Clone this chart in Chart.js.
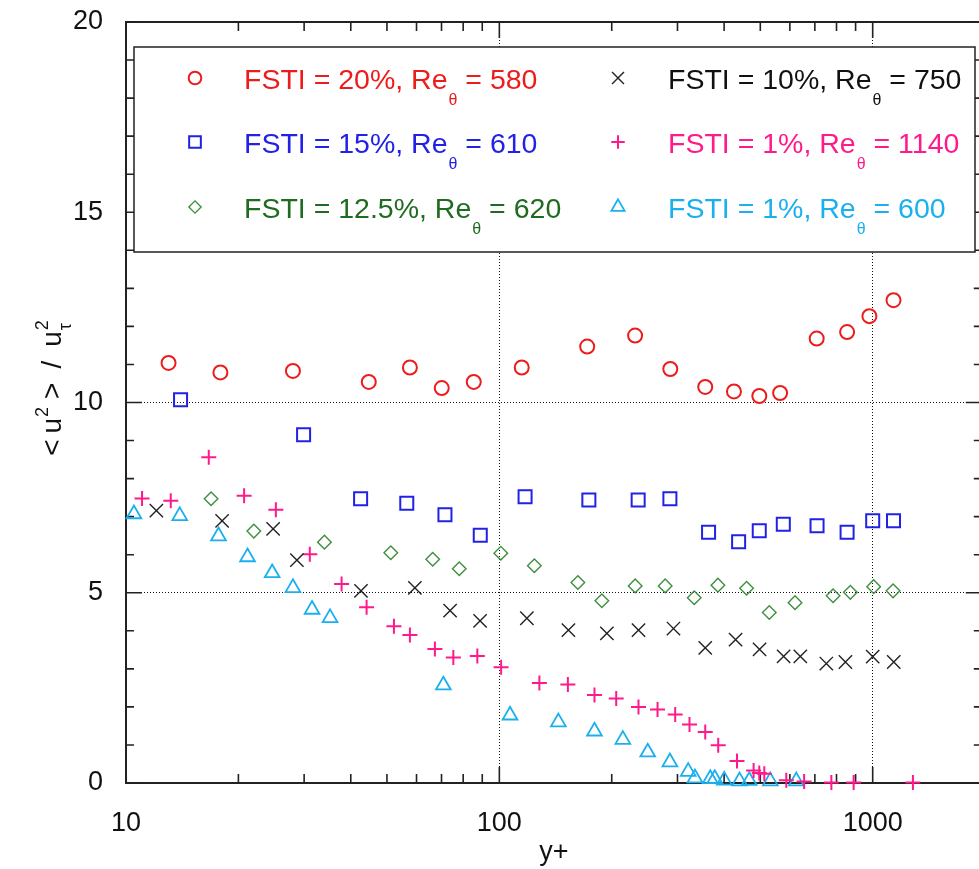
<!DOCTYPE html>
<html>
<head>
<meta charset="utf-8">
<script src="https://cdn.jsdelivr.net/npm/chart.js@4.4.1/dist/chart.umd.min.js"></script>
<style>
  html, body { margin: 0; padding: 0; background: #fff; overflow: hidden; }
  #wrap { width: 993px; height: 869px; }
</style>
</head>
<body>
<div id="wrap"><canvas id="chart" width="993" height="869"></canvas></div>
<script>
// Données (y+ , <u'^2>/u_tau^2)
const fsti20X = [13.0, 17.9, 28.0, 44.7, 57.6, 70.1, 85.4, 114.8, 171.9, 231, 287, 356, 425, 497, 565, 708, 854, 980, 1137];
const fsti20Y = [11.04, 10.79, 10.83, 10.54, 10.92, 10.38, 10.54, 10.92, 11.47, 11.76, 10.88, 10.41, 10.29, 10.17, 10.25, 11.68, 11.85, 12.27, 12.69];

const fsti15X = [14.0, 29.9, 42.5, 56.5, 71.5, 88.9, 117.2, 173.7, 235.4, 286.3, 363.4, 437.4, 496.8, 576.2, 709.5, 854, 1000, 1137];
const fsti15Y = [10.07, 9.15, 7.47, 7.35, 7.05, 6.51, 7.52, 7.44, 7.44, 7.47, 6.59, 6.34, 6.63, 6.80, 6.76, 6.59, 6.89, 6.89];

const fsti125X = [16.9, 22.0, 34.0, 51.2, 66.3, 78.1, 100.9, 124.1, 162.3, 188.2, 231.1, 278.1, 332.7, 385.0, 459.4, 528.5, 619.4, 783.2, 871.4, 1006, 1134];
const fsti125Y = [7.47, 6.62, 6.33, 6.05, 5.88, 5.63, 6.04, 5.71, 5.27, 4.79, 5.18, 5.18, 4.87, 5.20, 5.12, 4.48, 4.74, 4.92, 5.01, 5.16, 5.05];

const fsti10X = [12.06, 18.09, 24.78, 28.69, 42.6, 59.4, 73.8, 88.8, 118.5, 153.1, 194.1, 235.9, 292.7, 356, 429.3, 497.7, 577.3, 640, 751.3, 845.2, 1000, 1138.7];
const fsti10Y = [7.16, 6.89, 6.68, 5.86, 5.05, 5.13, 4.53, 4.26, 4.33, 4.02, 3.93, 4.02, 4.06, 3.55, 3.77, 3.51, 3.33, 3.33, 3.14, 3.18, 3.32, 3.18];

const fsti1hX = [11.04, 13.18, 16.66, 20.72, 25.2, 31.07, 37.8, 44.1, 52.2, 57.6, 67.2, 75.3, 87.3, 101.1, 128.0, 152.6, 179.8, 205.6, 235.9, 265.3, 295.8, 323.1, 356, 385.7, 433.1, 479.8, 496.8, 512.5, 586.9, 655.2, 775, 889.2, 1281.6];
const fsti1hY = [7.48, 7.42, 8.56, 7.55, 7.18, 6.01, 5.23, 4.62, 4.12, 3.89, 3.52, 3.30, 3.34, 3.04, 2.63, 2.59, 2.31, 2.22, 2.00, 1.93, 1.80, 1.54, 1.34, 0.99, 0.58, 0.33, 0.26, 0.24, 0.07, 0.04, 0.01, 0.01, 0.01];

const fsti1lX = [10.5, 13.93, 17.69, 21.16, 24.63, 28.0, 31.5, 35.2, 70.8, 106.8, 143.9, 179.8, 214.2, 249.7, 286.3, 320.5, 334.1, 367.2, 377.5, 400.3, 440, 467, 531.7, 624.3];
const fsti1lY = [7.07, 7.02, 6.49, 5.94, 5.52, 5.13, 4.56, 4.34, 2.57, 1.78, 1.60, 1.36, 1.14, 0.81, 0.55, 0.30, 0.13, 0.11, 0.11, 0.07, 0.05, 0.06, 0.05, 0.05];

// Graduations
const xTicks = [10, 100, 1000];
const yTicks = [0, 5, 10, 15, 20];

// Légende
const legendMain = ['FSTI = 20%, Re', 'FSTI = 15%, Re', 'FSTI = 12.5%, Re', 'FSTI = 10%, Re', 'FSTI = 1%, Re', 'FSTI = 1%, Re'];
const legendRe = ['580', '610', '620', '750', '1140', '600'];

const FONT = '"Liberation Sans", Arial, sans-serif';

const series = [
  { x: fsti20X, y: fsti20Y, style: 'circle', r: 7, bw: 2, color: '#ec1c1c', text: '#ec1c1c' },
  { x: fsti15X, y: fsti15Y, style: 'rect', r: 9.2, bw: 2, color: '#2222e6', text: '#2222e6' },
  { x: fsti125X, y: fsti125Y, style: 'rectRot', r: 6.8, bw: 1.4, color: '#3f8f3f', text: '#1f6b1f' },
  { x: fsti10X, y: fsti10Y, style: 'crossRot', r: 9.4, bw: 1.4, color: '#222222', text: '#111111' },
  { x: fsti1hX, y: fsti1hY, style: 'cross', r: 7.5, bw: 2, color: '#ff1a8c', text: '#ff1a8c' },
  { x: fsti1lX, y: fsti1lY, style: 'triangle', r: 8.5, bw: 1.8, color: '#1ab0ee', text: '#1ab0ee' }
];

// cadre + graduations vers l'intérieur
const cadre = {
  id: 'cadre',
  beforeDatasetsDraw(chart) {
    const { ctx, chartArea: a, scales: { x, y } } = chart;
    ctx.save();
    ctx.strokeStyle = '#222';
    ctx.lineWidth = 2;
    ctx.strokeRect(a.left, a.top, a.right - a.left, a.bottom - a.top);
    ctx.lineWidth = 1.6;
    ctx.beginPath();
    for (let d = 10; d <= 1000; d *= 10) {
      for (let k = 1; k <= 9; k++) {
        const v = d * k;
        if (v > x.max) continue;
        const px = x.getPixelForValue(v);
        const len = k === 1 ? 16 : 9;
        ctx.moveTo(px, a.bottom); ctx.lineTo(px, a.bottom - len);
        ctx.moveTo(px, a.top); ctx.lineTo(px, a.top + len);
      }
    }
    for (let v = 0; v <= 20; v++) {
      const py = y.getPixelForValue(v);
      const len = v % 5 === 0 ? 16 : 8;
      ctx.moveTo(a.left, py); ctx.lineTo(a.left + len, py);
      ctx.moveTo(a.right, py); ctx.lineTo(a.right - len, py);
    }
    ctx.stroke();
    ctx.restore();
  },
  afterDatasetsDraw(chart) {
    const { ctx, chartArea: a } = chart;
    ctx.save();
    // boîte de légende
    ctx.fillStyle = '#fff';
    ctx.fillRect(134, 47, 841, 205);
    ctx.strokeStyle = '#222';
    ctx.lineWidth = 1.5;
    ctx.strokeRect(134, 47, 841, 205);

    const colX = [195, 618];
    const textX = [244, 668];
    const rowY = [78, 142, 207];
    series.forEach((s, i) => {
      const c = Math.floor(i / 3), r = i % 3;
      ctx.strokeStyle = s.color;
      ctx.fillStyle = 'rgba(0,0,0,0)';
      ctx.lineWidth = s.bw;
      Chart.helpers.drawPoint(ctx, { pointStyle: s.style, radius: s.r * 0.9, borderWidth: s.bw, rotation: 0 }, colX[c], rowY[r]);

      const base = rowY[r] + 11;
      let tx = textX[c];
      ctx.fillStyle = s.text;
      ctx.textAlign = 'left';
      ctx.textBaseline = 'alphabetic';
      ctx.font = '28.5px ' + FONT;
      ctx.fillText(legendMain[i], tx, base);
      tx += ctx.measureText(legendMain[i]).width + 1;
      ctx.font = '16px ' + FONT;
      ctx.fillText('θ', tx, base + 16);
      tx += ctx.measureText('θ').width;
      ctx.font = '28.5px ' + FONT;
      ctx.fillText(' = ' + legendRe[i], tx, base);
    });

    // titres des axes
    ctx.fillStyle = '#111';
    ctx.font = '27px ' + FONT;
    ctx.textAlign = 'center';
    ctx.fillText('y+', (a.left + a.right) / 2, 860);

    ctx.translate(61, 388);
    ctx.rotate(-Math.PI / 2);
    const big = '28px ' + FONT, small = '18px ' + FONT;
    const parts = [
      { t: '<', f: big, dy: 0, gap: 6 },
      { t: 'u', f: big, dy: 0, gap: 1 },
      { t: '2', f: small, dy: -13, gap: 8 },
      { t: '>', f: big, dy: 0, gap: 14 },
      { t: '/', f: big, dy: 0, gap: 14 },
      { t: 'u', f: big, dy: 0, gap: 1 },
      { t: '2', f: small, dy: -13, stack: 'τ', gap: 0 }
    ];
    let total = 0;
    parts.forEach(p => { ctx.font = p.f; p.w = ctx.measureText(p.t).width; total += p.w + p.gap; });
    let px = -total / 2;
    ctx.textAlign = 'left';
    parts.forEach(p => {
      ctx.font = p.f;
      ctx.fillText(p.t, px, p.dy);
      if (p.stack) ctx.fillText(p.stack, px, 10);
      px += p.w + p.gap;
    });
    ctx.restore();
  }
};

new Chart(document.getElementById('chart'), {
  type: 'scatter',
  data: {
    datasets: series.map((s, i) => ({
      label: legendMain[i] + legendRe[i],
      data: s.x.map((v, k) => ({ x: v, y: s.y[k] })),
      pointStyle: s.style,
      pointRadius: s.r,
      pointBorderWidth: s.bw,
      pointBorderColor: s.color,
      pointBackgroundColor: 'rgba(0,0,0,0)',
      clip: false
    }))
  },
  options: {
    responsive: false,
    animation: false,
    layout: { padding: { top: 22, right: 4, left: 0, bottom: 0 } },
    plugins: { legend: { display: false }, tooltip: { enabled: false } },
    scales: {
      x: {
        type: 'logarithmic',
        min: 10,
        max: 1960,
        afterBuildTicks: s => { s.ticks = xTicks.map(v => ({ value: v })); },
        afterFit: s => { s.height = 86; },
        ticks: {
          callback: v => String(v),
          font: { family: FONT, size: 27 },
          color: '#111',
          padding: 24,
          maxRotation: 0,
          autoSkip: false
        },
        grid: { color: '#111', lineWidth: 1, drawTicks: false, tickLength: 0 },
        border: { display: false, dash: [1, 2] }
      },
      y: {
        min: 0,
        max: 20,
        afterBuildTicks: s => { s.ticks = yTicks.map(v => ({ value: v })); },
        afterFit: s => { s.width = 126; s.paddingTop = 0; s.paddingBottom = 0; },
        ticks: {
          font: { family: FONT, size: 27 },
          color: '#111',
          padding: 23
        },
        grid: { color: '#111', lineWidth: 1, drawTicks: false, tickLength: 0 },
        border: { display: false, dash: [1, 2] }
      }
    }
  },
  plugins: [cadre]
});
</script>
</body>
</html>
